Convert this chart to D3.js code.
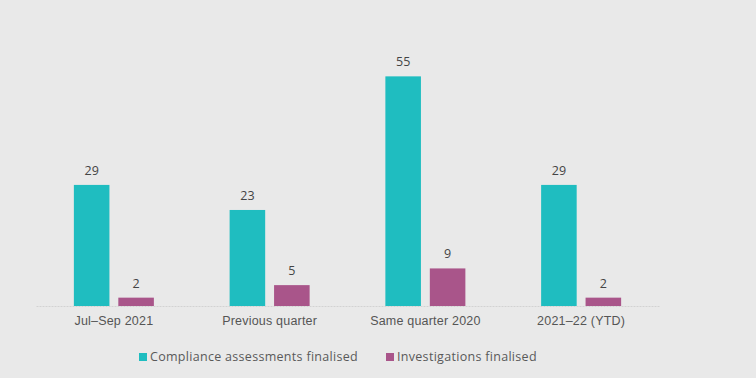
<!DOCTYPE html>
<html>
<head>
<meta charset="utf-8">
<script src="https://cdn.jsdelivr.net/npm/d3@7"></script>
<style>
  body { margin: 0; background: #e9e9e9; }
  svg { display: block; font-family: "Open Sans", "Noto Sans", sans-serif; }
</style>
</head>
<body>
<div id="chart"></div>
<script>
// Finalised assessments and investigations by period.
const categories = ['Jul–Sep 2021', 'Previous quarter', 'Same quarter 2020', '2021–22 (YTD)'];
const seriesNames = ['Compliance assessments finalised', 'Investigations finalised'];
const compliance = [29, 23, 55, 29];
const investigations = [2, 5, 9, 2];
const colours = ['#1fbdc0', '#a9558a'];

const width = 756, height = 378;
const margin = { top: 20, right: 97, bottom: 72, left: 36 };
const innerW = width - margin.left - margin.right;
const innerH = height - margin.top - margin.bottom;

const rows = categories.map((c, i) => ({ category: c, values: [compliance[i], investigations[i]] }));

const x = d3.scaleBand().domain(categories).range([0, innerW]);
const xs = d3.scaleBand().domain([0, 1]).range([x.bandwidth() / 2 - 40, x.bandwidth() / 2 + 40]).paddingInner(0.2);
const y = d3.scaleLinear().domain([0, 68.5]).range([innerH, 0]);

const svg = d3.select('#chart').append('svg').attr('width', width).attr('height', height);
const root = svg.append('g').attr('transform', `translate(${margin.left},${margin.top})`);

// Baseline with category labels.
root.append('g').attr('transform', `translate(0,${innerH})`)
  .call(d3.axisBottom(x).tickSize(0).tickPadding(10))
  .call(g => g.select('.domain').attr('stroke', '#d2d2d2').attr('stroke-dasharray', '2 1'))
  .call(g => g.selectAll('text').attr('fill', '#555').attr('font-size', 12.5).attr('font-family', 'inherit').attr('letter-spacing', 0.2));

const groups = root.selectAll('.group').data(rows).enter().append('g')
  .attr('transform', d => `translate(${x(d.category)},0)`);

groups.selectAll('rect').data(d => d.values).enter().append('rect')
  .attr('x', (d, i) => xs(i)).attr('width', xs.bandwidth())
  .attr('y', d => y(d)).attr('height', d => innerH - y(d))
  .attr('fill', (d, i) => colours[i]);

groups.selectAll('.val').data(d => d.values).enter().append('text')
  .attr('x', (d, i) => xs(i) + xs.bandwidth() / 2).attr('y', d => y(d) - 10)
  .attr('text-anchor', 'middle').attr('fill', '#444').attr('font-size', 12.5)
  .text(d => d);

// Legend below the axis.
const legendX = [139, 386];
const legend = svg.selectAll('.legend').data(seriesNames).enter().append('g')
  .attr('transform', (d, i) => `translate(${legendX[i]},353)`);
legend.append('rect').attr('width', 8).attr('height', 8).attr('fill', (d, i) => colours[i]);
legend.append('text').attr('x', 11).attr('y', 8).attr('fill', '#595959').attr('font-size', 12.5)
  .attr('letter-spacing', 0.3).text(d => d);
</script>
</body>
</html>
